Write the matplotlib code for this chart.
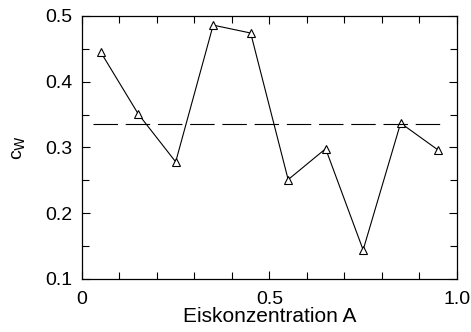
import matplotlib.pyplot as plt
from matplotlib.ticker import MultipleLocator, FixedLocator

plt.rcParams['font.family'] = ['Liberation Sans', 'DejaVu Sans']

# ice concentration classes and drag coefficient per class
conc = [0.05, 0.15, 0.25, 0.35, 0.45, 0.55, 0.65, 0.75, 0.85, 0.95]
cw = [0.445, 0.351, 0.278, 0.486, 0.474, 0.251, 0.298, 0.144, 0.337, 0.296]
cw_mean = sum(cw) / len(cw)

fig = plt.figure(figsize=(4.71, 3.32), dpi=100)
ax = fig.add_axes([0.174, 0.160, 0.796, 0.792])

ax.plot(conc, cw, color='black', lw=0.8, marker='^', ms=5.5,
        mfc='white', mec='black', mew=0.8)
ax.plot([0.03, 0.97], [cw_mean, cw_mean], color='black', lw=0.8,
        dashes=(22, 7))

ax.set_xlim(0, 1.0)
ax.set_ylim(0.1, 0.5)
ax.xaxis.set_major_locator(FixedLocator([0, 0.5, 1.0]))
ax.set_xticklabels(['0', '0.5', '1.0'])
ax.xaxis.set_minor_locator(MultipleLocator(0.1))
ax.yaxis.set_major_locator(MultipleLocator(0.1))
ax.yaxis.set_minor_locator(MultipleLocator(0.05))

ax.tick_params(which='both', direction='in', top=True, right=True,
               labelsize=14, width=0.8)
ax.tick_params(which='major', length=6)
ax.tick_params(which='minor', length=5)
ax.tick_params(axis='y', pad=7)
ax.tick_params(axis='x', pad=9)
for s in ax.spines.values():
    s.set_linewidth(0.9)

ax.set_xlabel('Eiskonzentration A', fontsize=15, labelpad=-1)
ax.set_ylabel(r'c$_\mathrm{W}$', fontsize=14, labelpad=12)

fig.savefig('out.png', dpi=100)
